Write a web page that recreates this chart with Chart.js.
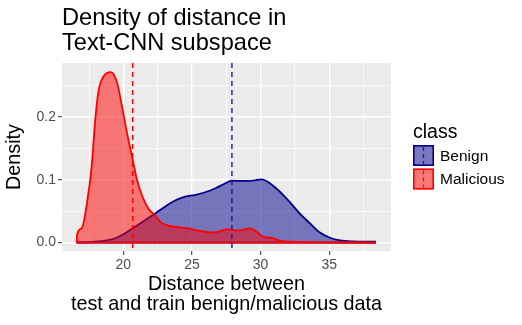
<!DOCTYPE html>
<html>
<head>
<meta charset="utf-8">
<script src="https://cdn.jsdelivr.net/npm/chart.js@4.4.0/dist/chart.umd.min.js"></script>
<style>
  html, body { margin: 0; padding: 0; background: #fff; }
  #wrap { width: 522px; height: 325px; position: relative; }
</style>
</head>
<body>
<div id="wrap"><canvas id="densityChart"></canvas></div>
<script>
// distance values and density estimates
const benignX = [16.6, 17.9, 18.9, 19.5, 20.1, 20.85, 21.6, 22.3, 23.04, 23.77, 24.5, 25.2, 25.95, 26.68, 27.4, 27.9, 28.74, 29.47, 30.08, 30.7, 31.4, 32.1, 32.86, 33.6, 34.32, 35.05, 35.8, 36.75, 38.4];
const benignY = [0.0003, 0.0013, 0.004, 0.0077, 0.0146, 0.025, 0.036, 0.046, 0.057, 0.067, 0.073, 0.0756, 0.080, 0.086, 0.094, 0.0985, 0.098, 0.0985, 0.1006, 0.094, 0.081, 0.065, 0.046, 0.0305, 0.016, 0.0077, 0.0035, 0.0019, 0.0013];
const maliciousX = [16.6, 16.62, 16.97, 17.33, 17.70, 17.94, 18.18, 18.55, 19.08, 19.52, 19.88, 20.25, 20.61, 20.97, 21.34, 21.82, 22.31, 22.79, 23.28, 23.76, 24.73, 25.70, 26.55, 27.65, 28.3, 29.25, 29.6, 30.2, 30.8, 31.4, 32.4, 34.3, 36.5, 38.4];
const maliciousY = [0, 0.012, 0.023, 0.060, 0.123, 0.192, 0.240, 0.264, 0.271, 0.256, 0.219, 0.176, 0.139, 0.102, 0.076, 0.054, 0.043, 0.031, 0.027, 0.025, 0.0226, 0.018, 0.016, 0.0212, 0.019, 0.0225, 0.019, 0.0093, 0.0075, 0.0032, 0.0013, 0.0003, 0.0001, 0];

// means of each class (dashed lines)
const benignMean = 27.91;
const maliciousMean = 20.68;

const xMajor = [20, 25, 30, 35];
const xMinor = [17.5, 22.5, 27.5, 32.5, 37.5];
const yMajor = [0, 0.1, 0.2];
const yMinor = [0.05, 0.15, 0.25];

const classes = ['Benign', 'Malicious'];
const lineColors = ['#00008B', '#FF0000'];
const fillColors = ['rgba(0,0,139,0.5)', 'rgba(255,0,0,0.5)'];
const meanColors = ['rgba(20,20,150,0.9)', '#FF0000'];

const FONT = '"Liberation Sans", Arial, sans-serif';

function toPoints(xs, ys) {
    return xs.map((x, i) => ({ x: x, y: ys[i] }));
}

function baseline(xs) {
    return [{ x: xs[0], y: 0 }, { x: xs[xs.length - 1], y: 0 }];
}

// fond gris du panneau, facon ggplot
const panelBg = {
    id: 'panelBg',
    beforeDraw(chart) {
        const { ctx, chartArea: a } = chart;
        ctx.save();
        ctx.fillStyle = '#EBEBEB';
        ctx.fillRect(a.left, a.top, a.right - a.left, a.bottom - a.top);
        ctx.restore();
    }
};

// dashed mean lines
const meanLines = {
    id: 'meanLines',
    afterDatasetsDraw(chart) {
        const { ctx, chartArea: a, scales } = chart;
        const means = [benignMean, maliciousMean];
        ctx.save();
        ctx.lineWidth = 1.5;
        ctx.setLineDash([5, 4]);
        means.forEach((m, i) => {
            const px = scales.x.getPixelForValue(m);
            ctx.strokeStyle = meanColors[i];
            ctx.beginPath();
            ctx.moveTo(px, a.top);
            ctx.lineTo(px, a.bottom);
            ctx.stroke();
        });
        ctx.restore();
    }
};

// title + legend
const decorations = {
    id: 'decorations',
    afterDraw(chart) {
        const ctx = chart.ctx;
        ctx.save();
        ctx.fillStyle = '#000';
        ctx.textAlign = 'left';
        ctx.textBaseline = 'alphabetic';
        ctx.font = '23.6px ' + FONT;
        ctx.fillText('Density of distance in', 62, 25);
        ctx.fillText('Text-CNN subspace', 62, 50);

        // legend
        ctx.font = '19.5px ' + FONT;
        ctx.fillText('class', 413, 138);
        const keyX = 413, keyW = 21, keyH = 21;
        const keyY = [145, 168.5];
        ctx.font = '15.5px ' + FONT;
        classes.forEach((name, i) => {
            const y = keyY[i];
            ctx.fillStyle = '#F2F2F2';
            ctx.fillRect(keyX, y, keyW, keyH);
            ctx.fillStyle = fillColors[i];
            ctx.fillRect(keyX, y, keyW, keyH);
            ctx.strokeStyle = lineColors[i];
            ctx.lineWidth = 1.6;
            ctx.setLineDash([]);
            ctx.strokeRect(keyX + 0.8, y + 0.8, keyW - 1.6, keyH - 1.6);
            ctx.strokeStyle = meanColors[i];
            ctx.lineWidth = 1.3;
            ctx.setLineDash([4, 3]);
            ctx.beginPath();
            ctx.moveTo(keyX + keyW / 2, y + 2);
            ctx.lineTo(keyX + keyW / 2, y + keyH - 2);
            ctx.stroke();
            ctx.setLineDash([]);
            ctx.fillStyle = '#000';
            ctx.textBaseline = 'middle';
            ctx.fillText(name, 440, y + keyH / 2 + 1);
        });
        ctx.restore();
    }
};

function isMajor(list, v) {
    return list.some(m => Math.abs(m - v) < 1e-9);
}

const ctx = document.getElementById('densityChart').getContext('2d');

new Chart(ctx, {
    type: 'line',
    data: {
        datasets: [
            {
                label: 'Malicious baseline',
                data: baseline(maliciousX),
                borderColor: lineColors[1],
                borderWidth: 1.8,
                pointRadius: 0,
                fill: false
            },
            {
                label: 'Malicious',
                data: toPoints(maliciousX, maliciousY),
                borderColor: lineColors[1],
                backgroundColor: fillColors[1],
                borderWidth: 1.8,
                pointRadius: 0,
                cubicInterpolationMode: 'monotone',
                fill: 'origin'
            },
            {
                label: 'Benign baseline',
                data: baseline(benignX),
                borderColor: lineColors[0],
                borderWidth: 1.8,
                pointRadius: 0,
                fill: false
            },
            {
                label: 'Benign',
                data: toPoints(benignX, benignY),
                borderColor: lineColors[0],
                backgroundColor: fillColors[0],
                borderWidth: 1.8,
                pointRadius: 0,
                cubicInterpolationMode: 'monotone',
                fill: 'origin'
            }
        ]
    },
    options: {
        responsive: true,
        maintainAspectRatio: false,
        animation: false,
        events: [],
        layout: { padding: { top: 63, right: 131, bottom: 0, left: 0 } },
        plugins: {
            legend: { display: false },
            tooltip: { enabled: false },
            title: { display: false }
        },
        scales: {
            x: {
                type: 'linear',
                min: 15.53,
                max: 39.5,
                afterBuildTicks: (scale) => {
                    scale.ticks = xMajor.concat(xMinor).sort((a, b) => a - b).map(v => ({ value: v }));
                },
                afterFit: (scale) => { scale.height = 74; },
                border: { display: false },
                grid: {
                    color: '#FFFFFF',
                    lineWidth: (c) => isMajor(xMajor, c.tick.value) ? 1.4 : 0.7,
                    tickColor: (c) => isMajor(xMajor, c.tick.value) ? '#333333' : 'rgba(0,0,0,0)',
                    tickLength: 4,
                    tickWidth: 1
                },
                ticks: {
                    autoSkip: false,
                    maxRotation: 0,
                    padding: 2,
                    color: '#4D4D4D',
                    font: { family: FONT, size: 14 },
                    callback: (v) => isMajor(xMajor, v) ? String(v) : ''
                },
                title: {
                    display: true,
                    text: ['Distance between', 'test and train benign/malicious data'],
                    color: '#000',
                    font: { family: FONT, size: 19.8, lineHeight: '20px' },
                    padding: { top: 0, bottom: 10 }
                }
            },
            y: {
                type: 'linear',
                min: -0.0134,
                max: 0.2855,
                afterBuildTicks: (scale) => {
                    scale.ticks = yMajor.concat(yMinor).sort((a, b) => a - b).map(v => ({ value: v }));
                },
                afterFit: (scale) => { scale.width = 62; },
                border: { display: false },
                grid: {
                    color: '#FFFFFF',
                    lineWidth: (c) => isMajor(yMajor, c.tick.value) ? 1.4 : 0.7,
                    tickColor: (c) => isMajor(yMajor, c.tick.value) ? '#333333' : 'rgba(0,0,0,0)',
                    tickLength: 4,
                    tickWidth: 1
                },
                ticks: {
                    autoSkip: false,
                    padding: 2,
                    color: '#4D4D4D',
                    font: { family: FONT, size: 14 },
                    callback: (v) => isMajor(yMajor, v) ? v.toFixed(1) : ''
                },
                title: {
                    display: true,
                    text: 'Density',
                    color: '#000',
                    font: { family: FONT, size: 19.8, lineHeight: '20px' },
                    padding: { top: 5, bottom: 0 }
                }
            }
        }
    },
    plugins: [panelBg, meanLines, decorations]
});
</script>
</body>
</html>
